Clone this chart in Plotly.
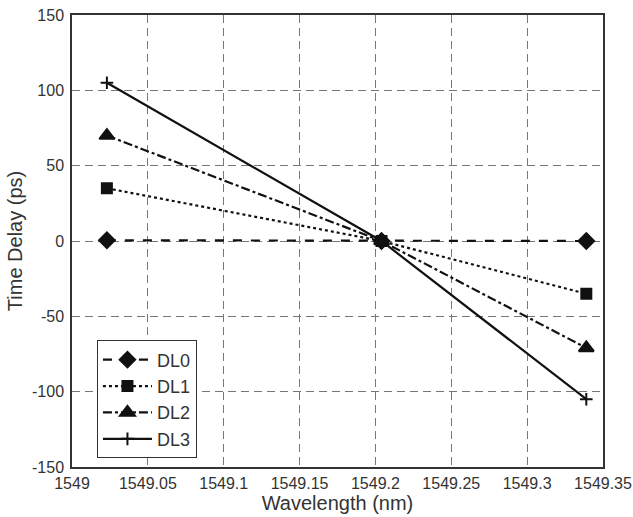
import plotly.graph_objects as go

wavelength = [1549.023, 1549.204, 1549.339]
dl0 = [0.5, 0, 0]
dl1 = [35, 0, -35]
dl2 = [70, 0, -71]
dl3 = [105, 0, -105]
names = ["DL0", "DL1", "DL2", "DL3"]

x_ticks = [1549, 1549.05, 1549.1, 1549.15, 1549.2, 1549.25, 1549.3, 1549.35]
x_labels = ["1549", "1549.05", "1549.1", "1549.15", "1549.2", "1549.25", "1549.3", "1549.35"]
y_ticks = [-150, -100, -50, 0, 50, 100, 150]
y_labels = ["-150", "-100", "-50", "0", "50", "100", "150"]

series = [dl0, dl1, dl2, dl3]
dashes = ["dash", "dot", "dashdot", "solid"]
symbols = ["diamond", "square", "triangle-up", "cross-thin"]
sizes = [12, 10, 13, 9]

fig = go.Figure()
for name, ys, d, s, sz in zip(names, series, dashes, symbols, sizes):
    fig.add_trace(go.Scatter(
        x=wavelength, y=ys, name=name, mode="lines+markers",
        line=dict(color="#111111", width=2.2, dash=d),
        marker=dict(symbol=s, size=sz, color="#111111",
                    line=dict(color="#111111", width=2)),
    ))

font = "Liberation Sans, Arial, sans-serif"
fig.update_layout(
    width=633, height=517,
    margin=dict(l=72, r=30, t=15, b=50, autoexpand=False),
    plot_bgcolor="white", paper_bgcolor="white",
    font=dict(family=font, color="#333333", size=16),
    showlegend=True,
    legend=dict(x=0.047, y=0.28, xanchor="left", yanchor="top",
                bgcolor="white", bordercolor="#333333", borderwidth=1,
                font=dict(size=18, color="#333333"),
                itemwidth=49, tracegroupgap=0),
    xaxis=dict(range=[1549, 1549.35], tickvals=x_ticks, ticktext=x_labels,
               automargin=False,
               showgrid=True, gridcolor="#777777", griddash="8px,5px", gridwidth=1,
               showline=True, linecolor="#333333", linewidth=1.5, mirror=True,
               zeroline=False, ticks="outside", ticklen=1, tickcolor="white",
               title=dict(text="Wavelength (nm)", font=dict(size=20), standoff=0),
               tickfont=dict(size=16)),
    yaxis=dict(range=[-150, 150], tickvals=y_ticks, ticktext=y_labels,
               automargin=False,
               showgrid=True, gridcolor="#777777", griddash="8px,5px", gridwidth=1,
               showline=True, linecolor="#333333", linewidth=1.5, mirror=True,
               zeroline=False, ticks="outside", ticklen=3, tickcolor="white",
               title=dict(text="Time Delay (ps)", font=dict(size=20), standoff=4),
               tickfont=dict(size=16)),
)
fig.write_html("out.html", config={"displayModeBar": False},
               post_script="document.body.style.margin='0';")
